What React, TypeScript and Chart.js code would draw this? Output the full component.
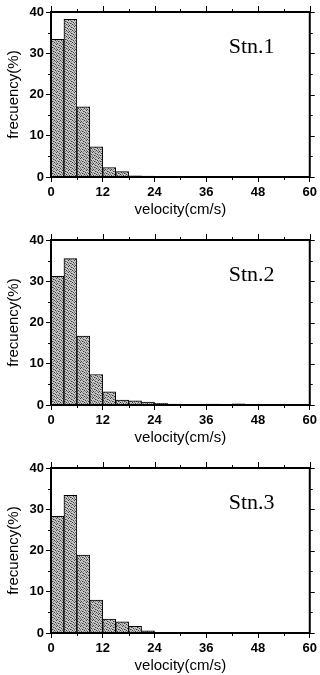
import React, { useEffect, useRef } from "react";
import { Chart, registerables } from "chart.js";

Chart.register(...registerables);

const binCenters = [1.5, 4.5, 7.5, 10.5, 13.5, 16.5, 19.5, 22.5, 25.5, 28.5, 31.5, 34.5, 37.5, 40.5, 43.5, 46.5, 49.5, 52.5, 55.5, 58.5];
const stn1 = [33.4, 38.2, 17.0, 7.3, 2.3, 1.3, 0.3, 0.2, 0.1, 0, 0, 0, 0, 0, 0, 0, 0, 0, 0, 0];
const stn2 = [31.2, 35.5, 16.7, 7.4, 3.2, 1.2, 1.0, 0.7, 0.4, 0.2, 0, 0, 0.2, 0, 0.3, 0, 0, 0, 0, 0];
const stn3 = [28.3, 33.4, 18.9, 8.0, 3.4, 2.7, 1.6, 0.5, 0.1, 0.1, 0.1, 0.1, 0.1, 0.1, 0.1, 0, 0, 0, 0, 0];
const stations = ["Stn.1", "Stn.2", "Stn.3"];
const seriesList = [stn1, stn2, stn3];
const xMajorTicks = [0, 12, 24, 36, 48, 60];
const xMinorTicks = [6, 18, 30, 42, 54];
const yMajorTicks = [0, 10, 20, 30, 40];
const yMinorTicks = [5, 15, 25, 35];

function makePattern(): CanvasPattern | string {
  const c = document.createElement("canvas");
  c.width = 6;
  c.height = 6;
  const g = c.getContext("2d");
  if (!g) return "#a0a0a0";
  g.fillStyle = "#c6c6c6";
  g.fillRect(0, 0, 6, 6);
  const dark: [number, number][] = [[0, 0], [3, 1], [5, 3], [1, 4], [4, 5], [2, 2]];
  const mid: [number, number][] = [[2, 0], [5, 1], [0, 3], [3, 4], [1, 1], [4, 2], [5, 5], [2, 5]];
  g.fillStyle = "#3a3a3a";
  dark.forEach(([x, y]) => g.fillRect(x, y, 1, 1));
  g.fillStyle = "#808080";
  mid.forEach(([x, y]) => g.fillRect(x, y, 1, 1));
  const p = g.createPattern(c, "repeat");
  return p || "#a0a0a0";
}

function Panel({ values, label }: { values: number[]; label: string }) {
  const ref = useRef<HTMLCanvasElement | null>(null);
  useEffect(() => {
    if (!ref.current) return;
    const framePlugin = {
      id: "frame",
      afterDraw(chart: any) {
        const { ctx, chartArea } = chart;
        const xs = chart.scales.x;
        const ys = chart.scales.y;
        const { left, right, top, bottom } = chartArea;
        ctx.save();
        ctx.strokeStyle = "#000";
        ctx.lineWidth = 2;
        ctx.strokeRect(left, top, right - left, bottom - top);
        ctx.lineWidth = 1;
        ctx.beginPath();
        xMajorTicks.forEach((v) => {
          const px = Math.round(xs.getPixelForValue(v)) + 0.5;
          ctx.moveTo(px, top);
          ctx.lineTo(px, top - 6);
        });
        xMinorTicks.forEach((v) => {
          const px = Math.round(xs.getPixelForValue(v)) + 0.5;
          ctx.moveTo(px, top);
          ctx.lineTo(px, top - 3);
          ctx.moveTo(px, bottom);
          ctx.lineTo(px, bottom + 3);
        });
        yMajorTicks.forEach((v) => {
          const py = Math.round(ys.getPixelForValue(v)) + 0.5;
          ctx.moveTo(right, py);
          ctx.lineTo(right + 5, py);
        });
        yMinorTicks.forEach((v) => {
          const py = Math.round(ys.getPixelForValue(v)) + 0.5;
          ctx.moveTo(right, py);
          ctx.lineTo(right + 3, py);
          ctx.moveTo(left, py);
          ctx.lineTo(left - 3, py);
        });
        ctx.stroke();
        ctx.fillStyle = "#000";
        ctx.font = "22px 'Liberation Serif'";
        ctx.textBaseline = "alphabetic";
        ctx.textAlign = "left";
        ctx.fillText(label, right - 81, top + 41);
        ctx.restore();
      },
    };
    const chart = new Chart(ref.current, {
      type: "bar",
      data: {
        datasets: [
          {
            data: binCenters.map((x, i) => ({ x, y: values[i] })),
            backgroundColor: makePattern() as any,
            borderColor: "#000",
            borderWidth: 1,
            barPercentage: 1,
            categoryPercentage: 1,
          },
        ],
      },
      options: {
        animation: false,
        responsive: false,
        layout: { padding: { top: 12, right: 8, left: 0, bottom: 0 } },
        plugins: { legend: { display: false }, tooltip: { enabled: false } },
        scales: {
          x: {
            type: "linear",
            min: 0,
            max: 60,
            offset: false,
            afterFit: (s: any) => {
              s.height = 48;
            },
            afterBuildTicks: (s: any) => {
              s.ticks = xMajorTicks.map((v) => ({ value: v }));
            },
            ticks: {
              color: "#000",
              padding: 3,
              maxRotation: 0,
              font: { family: "'Liberation Sans'", size: 13, weight: "bold" },
            },
            grid: { display: true, offset: false, drawOnChartArea: false, drawTicks: true, tickLength: 5, color: "#000", lineWidth: 1 },
            border: { display: false },
            title: {
              display: true,
              text: "velocity(cm/s)",
              color: "#000",
              padding: { top: 0, bottom: 6 },
              font: { family: "'Liberation Sans'", size: 15 },
            },
          },
          y: {
            min: 0,
            max: 40,
            afterFit: (s: any) => {
              s.width = 51;
            },
            afterBuildTicks: (s: any) => {
              s.ticks = yMajorTicks.map((v) => ({ value: v }));
            },
            ticks: {
              color: "#000",
              padding: 2,
              font: { family: "'Liberation Sans'", size: 13, weight: "bold" },
            },
            grid: { display: true, drawOnChartArea: false, drawTicks: true, tickLength: 5, color: "#000", lineWidth: 1 },
            border: { display: false },
            title: {
              display: true,
              text: "frecuency(%)",
              color: "#000",
              padding: { top: 5, bottom: 0 },
              font: { family: "'Liberation Sans'", size: 15 },
            },
          },
        },
      },
      plugins: [framePlugin],
    });
    return () => chart.destroy();
  }, [values, label]);
  return <canvas ref={ref} width={320} height={225} style={{ display: "block", width: 320, height: 225 }} />;
}

export default function App() {
  return (
    <div style={{ position: "absolute", left: 0, top: 0, width: 320, height: 675, background: "#fff" }}>
      {seriesList.map((vals, i) => (
        <div key={i} style={{ position: "absolute", left: 0, top: i * 228, width: 320, height: 225 }}>
          <Panel values={vals} label={stations[i]} />
        </div>
      ))}
    </div>
  );
}
